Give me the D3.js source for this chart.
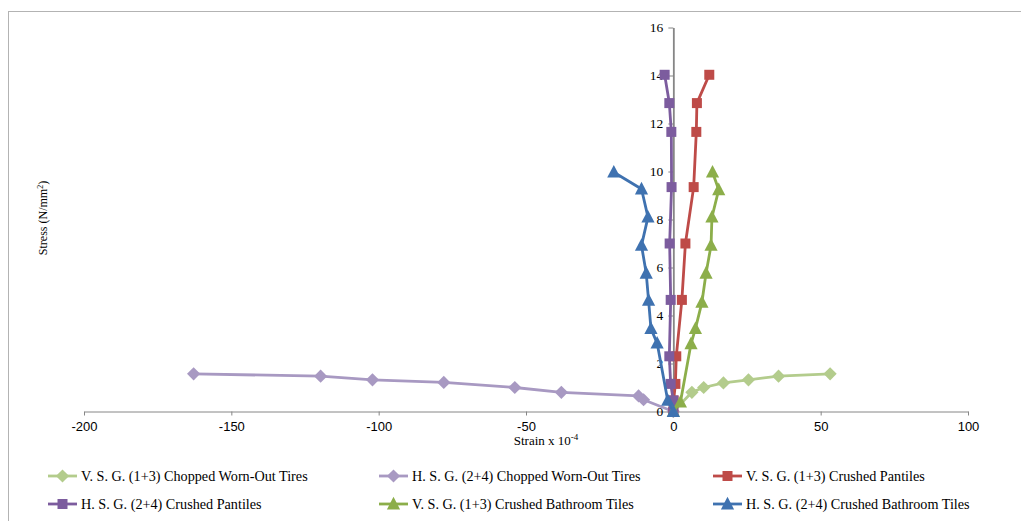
<!DOCTYPE html>
<html><head><meta charset="utf-8">
<script src="https://cdn.jsdelivr.net/npm/d3@7"></script>
<style>body{margin:0;background:#fff;}svg{display:block;}</style>
</head><body>
<script>
const seriesNames = [
  "V. S. G. (1+3) Chopped Worn-Out Tires",
  "H. S. G. (2+4) Chopped Worn-Out Tires",
  "V. S. G. (1+3) Crushed Pantiles",
  "H. S. G. (2+4) Crushed Pantiles",
  "V. S. G. (1+3) Crushed Bathroom Tiles",
  "H. S. G. (2+4) Crushed Bathroom Tiles"
];
const seriesColors = ["#b3cc8c", "#a899c2", "#be4b48", "#7c5c9e", "#8cae4a", "#3f72b0"];
const seriesMarkers = ["diamond", "diamond", "square", "square", "triangle", "triangle"];

const vsgTiresStrain = [0, 6.3, 10.3, 17.0, 25.5, 35.7, 53.2];
const vsgTiresStress = [0, 0.8, 1.0, 1.19, 1.32, 1.47, 1.57];
const hsgTiresStrain = [0, -10.1, -11.8, -38.0, -53.8, -77.9, -102.1, -119.7, -162.8];
const hsgTiresStress = [0, 0.49, 0.65, 0.8, 1.0, 1.21, 1.32, 1.47, 1.57];
const vsgPantStrain = [0, 0.1, 0.7, 1.0, 2.9, 4.1, 6.9, 7.8, 8.0, 12.2];
const vsgPantStress = [0, 0.46, 1.15, 2.3, 4.65, 7.0, 9.35, 11.65, 12.85, 14.03];
const hsgPantStrain = [0, 0.0, -0.9, -1.36, -0.9, -1.25, -0.6, -0.68, -1.36, -2.95];
const hsgPantStress = [0, 0.46, 1.15, 2.3, 4.65, 7.0, 9.35, 11.65, 12.85, 14.03];
const vsgBathStrain = [0, 2.4, 6.0, 7.5, 9.7, 11.1, 12.8, 13.1, 15.4, 13.3];
const vsgBathStress = [0, 0.39, 2.82, 3.45, 4.55, 5.76, 6.92, 8.1, 9.24, 9.97];
const hsgBathStrain = [0, -1.9, -5.5, -7.6, -8.4, -9.2, -10.8, -8.6, -10.8, -20.2];
const hsgBathStress = [0, 0.46, 2.85, 3.45, 4.63, 5.76, 6.92, 8.1, 9.27, 9.97];

const xTicks = [-200, -150, -100, -50, 0, 50, 100];
const yTicks = [0, 2, 4, 6, 8, 10, 12, 14, 16];

const seriesData = [
  [vsgTiresStrain, vsgTiresStress],
  [hsgTiresStrain, hsgTiresStress],
  [vsgPantStrain, vsgPantStress],
  [hsgPantStrain, hsgPantStress],
  [vsgBathStrain, vsgBathStress],
  [hsgBathStrain, hsgBathStress]
].map(([xs, ys]) => xs.map((x, i) => ({x, y: ys[i]})));

const W = 1021, H = 521;
const svg = d3.select("body").append("svg").attr("width", W).attr("height", H);

svg.append("rect").attr("x", 8.5).attr("y", 11.5).attr("width", 1030).attr("height", 530)
  .attr("fill", "none").attr("stroke", "#b3b3b3").attr("stroke-width", 1);

const x = d3.scaleLinear().domain([-200, 100]).range([84, 968]);
const y = d3.scaleLinear().domain([0, 16]).range([411.5, 27.5]);
const fmt = d => String(d);

// x axis
const xAxis = svg.append("g").attr("transform", `translate(0,${y(0)})`)
  .call(d3.axisBottom(x).tickValues(xTicks).tickFormat(fmt).tickSizeInner(4).tickSizeOuter(0).tickPadding(6));
xAxis.select(".domain").attr("stroke", "#868686");
xAxis.selectAll(".tick line").attr("stroke", "#868686");
xAxis.selectAll("text").attr("font-family", "'Liberation Sans', Arial, sans-serif").attr("font-size", 13).attr("fill", "#000");

// y axis
const yAxis = svg.append("g").attr("transform", `translate(${x(0)},0)`)
  .call(d3.axisLeft(y).tickValues(yTicks).tickFormat(fmt).tickSizeInner(5).tickSizeOuter(0).tickPadding(5));
yAxis.select(".domain").attr("stroke", "#868686").attr("stroke-width", 1.8);
yAxis.selectAll(".tick line").attr("stroke", "#868686");
yAxis.selectAll("text").attr("font-family", "'Liberation Serif', 'Times New Roman', serif").attr("font-size", 13.5).attr("fill", "#000");

// axis titles
const xt = svg.append("text").attr("x", 546).attr("y", 445).attr("text-anchor", "middle")
  .attr("font-family", "'Liberation Serif', serif").attr("font-size", 13).attr("fill", "#000");
xt.append("tspan").text("Strain x 10");
xt.append("tspan").attr("dy", -5).attr("font-size", 9).text("-4");

const yt = svg.append("text").attr("transform", "translate(47,218) rotate(-90)").attr("text-anchor", "middle")
  .attr("font-family", "'Liberation Serif', serif").attr("font-size", 12).attr("fill", "#000");
yt.append("tspan").text("Stress (N/mm");
yt.append("tspan").attr("dy", -4).attr("font-size", 8).text("2");
yt.append("tspan").attr("dy", 4).text(")");

function markerPath(type, s) {
  if (type === "square") return d3.symbol(d3.symbolSquare, s * s)();
  if (type === "diamond") return `M0,${-s*0.6}L${s*0.6},0L0,${s*0.6}L${-s*0.6},0Z`;
  const h = s; return `M0,${-h*0.6}L${h*0.55},${h*0.45}L${-h*0.55},${h*0.45}Z`;
}
const markerSize = {square: 10, diamond: 11, triangle: 12};

const line = d3.line().x(d => x(d.x)).y(d => y(d.y));
seriesData.forEach((data, i) => {
  const g = svg.append("g");
  g.append("path").datum(data).attr("d", line).attr("fill", "none")
    .attr("stroke", seriesColors[i]).attr("stroke-width", 2.8).attr("stroke-linejoin", "round");
  g.selectAll("path.m").data(data).enter().append("path").attr("class", "m")
    .attr("transform", d => `translate(${x(d.x)},${y(d.y)})`)
    .attr("d", markerPath(seriesMarkers[i], markerSize[seriesMarkers[i]]))
    .attr("fill", seriesColors[i]);
});

// legend
const legX = [48, 379, 713];
const legY = [476, 504];
seriesNames.forEach((name, i) => {
  const lx = legX[i % 3], ly = legY[Math.floor(i / 3)];
  const g = svg.append("g").attr("transform", `translate(${lx},${ly})`);
  g.append("line").attr("x1", 0).attr("x2", 29).attr("y1", 0).attr("y2", 0)
    .attr("stroke", seriesColors[i]).attr("stroke-width", 2.8);
  g.append("path").attr("transform", "translate(14.5,0)")
    .attr("d", markerPath(seriesMarkers[i], markerSize[seriesMarkers[i]])).attr("fill", seriesColors[i]);
  g.append("text").attr("x", 33).attr("y", 5).text(name)
    .attr("font-family", "'Liberation Serif', serif").attr("font-size", 14.2).attr("fill", "#000");
});
</script>
</body></html>
